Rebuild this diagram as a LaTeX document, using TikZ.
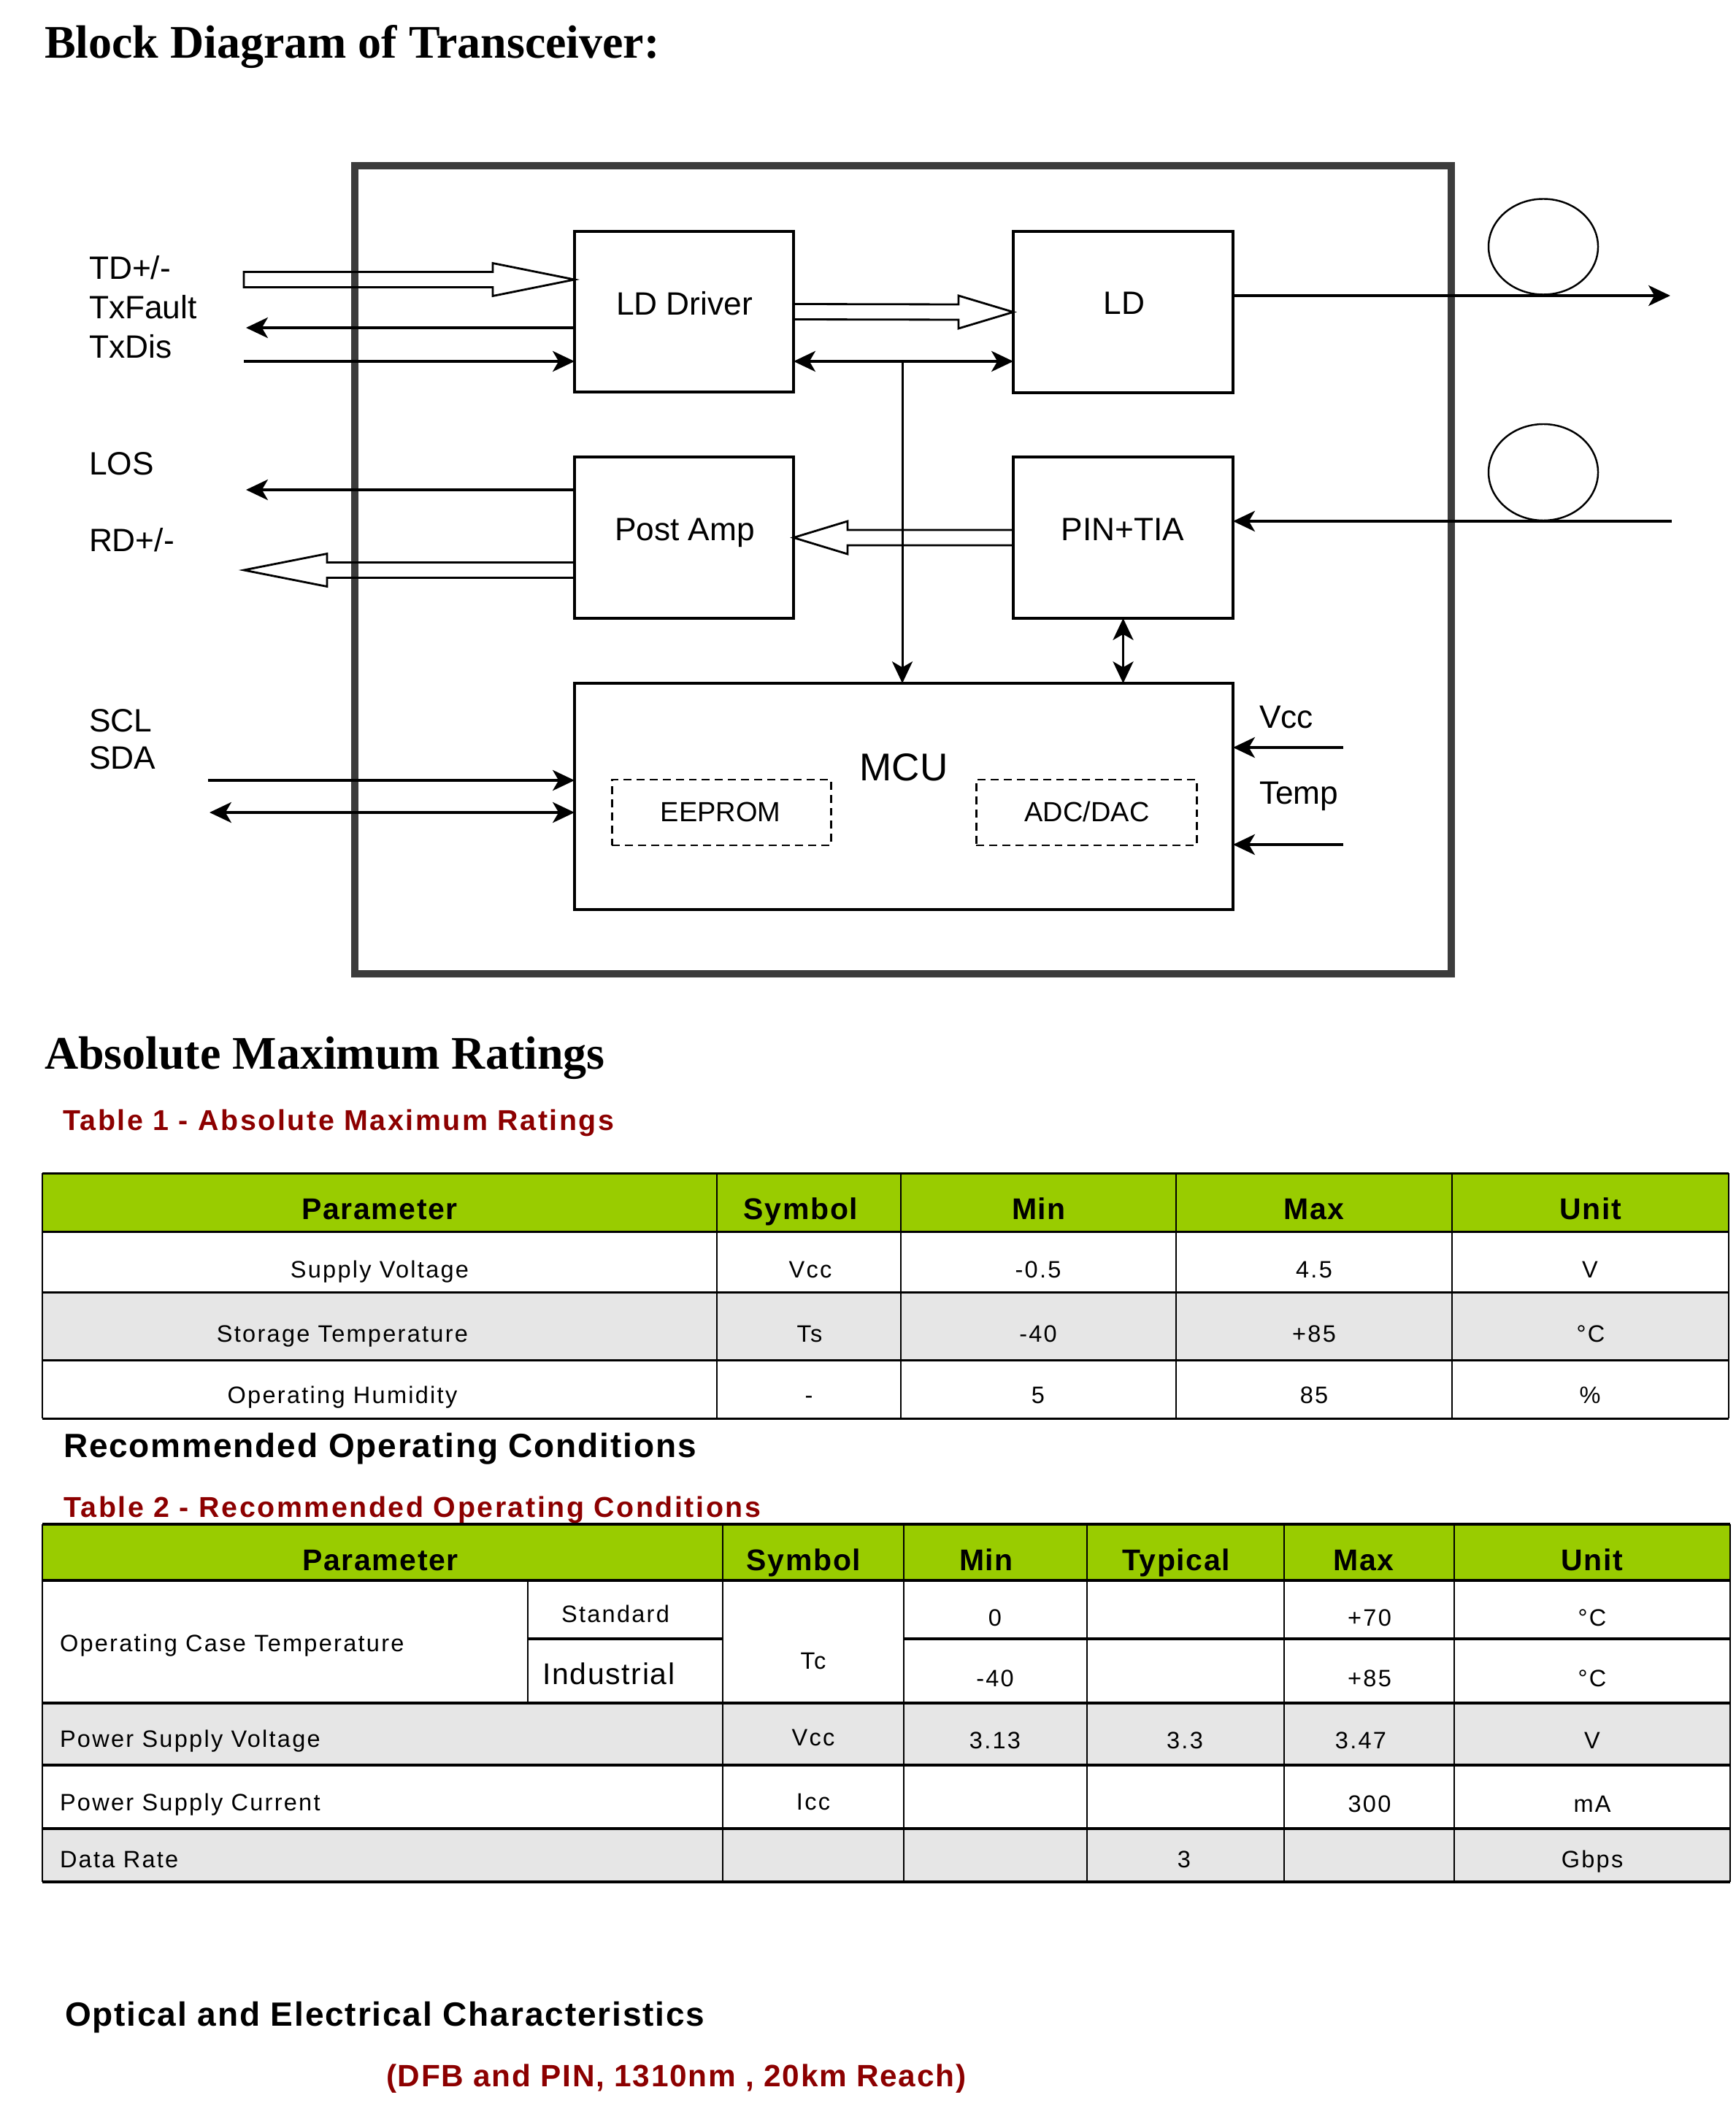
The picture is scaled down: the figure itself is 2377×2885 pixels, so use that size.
\documentclass[tikz,border=0pt]{standalone}
\usepackage{fontspec}
\setmainfont{Liberation Serif}
\newfontfamily\sfA{Liberation Sans}
\newfontfamily\sfB[LetterSpace=7]{Liberation Sans}
\newfontfamily\sfC[LetterSpace=4]{Liberation Sans}
\newfontfamily\sfD[LetterSpace=6.5]{Liberation Sans}
\usetikzlibrary{arrows.meta,calc}
\definecolor{hdrgreen}{RGB}{153,204,0}
\definecolor{rowgray}{RGB}{230,230,230}
\definecolor{capred}{RGB}{140,0,0}
\definecolor{framegray}{RGB}{60,60,60}
\newcommand\hollowR[3]{\draw[hol] ($(#1)+(0,-10.5)$) -- ($(#2)+(-#3,-10.5)$) -- ($(#2)+(-#3,-22.5)$) -- (#2) -- ($(#2)+(-#3,22.5)$) -- ($(#2)+(-#3,10.5)$) -- ($(#1)+(0,10.5)$) -- cycle;}
\newcommand\hollowL[3]{\draw[hol] ($(#1)+(0,-10.5)$) -- ($(#2)+(#3,-10.5)$) -- ($(#2)+(#3,-22.5)$) -- (#2) -- ($(#2)+(#3,22.5)$) -- ($(#2)+(#3,10.5)$) -- ($(#1)+(0,10.5)$) -- cycle;}
\begin{document}
\begin{tikzpicture}[x=0.1mm,y=-0.1mm,
  every node/.style={inner sep=0pt,outer sep=0pt},
  >={Stealth[length=8.5pt,width=8pt,inset=2.3pt]},
  blk/.style={draw,line width=1pt},
  dbox/.style={draw,line width=0.85pt,dash pattern=on 3.1pt off 2pt},
  arr/.style={line width=1.2pt},
  varr/.style={line width=0.85pt},
  hol/.style={line width=0.8pt,line join=miter},
  lbl/.style={font=\sfA\fontsize{12.6pt}{15pt}\selectfont},
  subl/.style={anchor=base,font=\sfA\fontsize{10.8pt}{13pt}\selectfont},
  sect/.style={anchor=base west,font=\bfseries\fontsize{18.2pt}{21pt}\selectfont},
  headl/.style={anchor=base west,font=\sfC\bfseries\fontsize{13.1pt}{16pt}\selectfont},
  tcap/.style={anchor=base west,text=capred,font=\sfD\bfseries\fontsize{11.2pt}{13pt}\selectfont},
  th/.style={anchor=base,font=\sfC\bfseries\fontsize{11.66pt}{14pt}\selectfont},
  tb/.style={anchor=base,font=\sfB\fontsize{9.25pt}{11pt}\selectfont},
  tbl/.style={anchor=base west,font=\sfB\fontsize{9.25pt}{11pt}\selectfont},
  hl1/.style={line width=0.85pt},
  vl1/.style={line width=0.5pt},
  hl2/.style={line width=1.25pt},
  vl2/.style={line width=0.7pt}]
\useasboundingbox (0,0) rectangle (2377,2885);

% ---------------- Title ----------------
\node[sect] (title) at (61,80) {Block Diagram of Transceiver:};

% ---------------- Frame ----------------
\draw[line width=2.6pt,draw=framegray] (486,227) rectangle (1988,1334);

% ---------------- Blocks ----------------
\node[blk,minimum width=30mm,minimum height=22mm] (ldd) at (937,427) {};
\node[blk,minimum width=30.1mm,minimum height=22.1mm] (ld) at (1538.5,427.5) {};
\node[blk,minimum width=30mm,minimum height=22.1mm] (pa) at (937,736.5) {};
\node[blk,minimum width=30.1mm,minimum height=22.1mm] (pin) at (1538.5,736.5) {};
\node[blk,minimum width=90.2mm,minimum height=31mm] (mcu) at (1238,1091) {};
\node[dbox,minimum width=30mm,minimum height=9mm] (eep) at (988,1113) {};
\node[dbox,minimum width=30.2mm,minimum height=9mm] (adc) at (1488,1113) {};

\node[lbl,anchor=base] (lddT) at (937.5,432) {LD Driver};
\node[lbl,anchor=base] (ldT) at (1540,431) {LD};
\node[lbl,anchor=base] (paT) at (938,740) {Post Amp};
\node[lbl,anchor=base] (pinT) at (1538,740) {PIN+TIA};
\node[anchor=base,font=\sfA\fontsize{15.1pt}{18pt}\selectfont] (mcuT) at (1238,1069) {MCU};
\node[subl] (eepT) at (987,1125) {EEPROM};
\node[subl] (adcT) at (1489,1125) {ADC/DAC};

% ---------------- Side labels ----------------
\node[lbl,anchor=base west] (tdT) at (122,383) {TD+/-};
\node[lbl,anchor=base west] (txfT) at (122,437) {TxFault};
\node[lbl,anchor=base west] (txdT) at (122,491) {TxDis};
\node[lbl,anchor=base west] (losT) at (122,651) {LOS};
\node[lbl,anchor=base west] (rdT) at (122,756) {RD+/-};
\node[lbl,anchor=base west] (sclT) at (122,1002) {SCL};
\node[lbl,anchor=base west] (sdaT) at (122,1053) {SDA};
\node[lbl,anchor=base west] (vccT) at (1725,997) {Vcc};
\node[lbl,anchor=base west] (tmpT) at (1725,1101) {Temp};

% ---------------- Coordinates ----------------
\coordinate (tdS) at (334,383);
\coordinate (tdE) at (ldd.west |- tdS);
\coordinate (txfE) at (337,449);
\coordinate (txdS) at (334,495);
\coordinate (losE) at (337,671);
\coordinate (rdE) at (334,781);
\coordinate (rdS) at (pa.west |- rdE);
\coordinate (sclS) at (285,1069);
\coordinate (sdaS) at (287,1113);
\coordinate (vccS) at (1840,1024);
\coordinate (tmpS) at (1840,1157);
\coordinate (outE) at (2288,405);
\coordinate (inS) at (2290,714);
\coordinate (bus) at (1236,495);

% ---------------- Hollow (bus) arrows ----------------
\hollowR{tdS}{tdE}{112}
\hollowR{ldd.east}{ld.west}{75}
\hollowL{pin.west}{pa.east}{74}
\hollowL{rdS}{rdE}{114}

% ---------------- Line arrows ----------------
\draw[arr,->] (ldd.west |- txfE) -- (txfE);
\draw[arr,->] (txdS) -- (ldd.west |- txdS);
\draw[arr,<->] (ldd.east |- bus) -- (ld.west |- bus);
\draw[varr,->] (bus) -- (bus |- mcu.north);
\draw[varr,<->] (pin.south) -- (pin.south |- mcu.north);
\draw[arr,->] (pa.west |- losE) -- (losE);
\draw[arr,->] (sclS) -- (mcu.west |- sclS);
\draw[arr,<->] (sdaS) -- (mcu.west |- sdaS);
\draw[arr,->] (vccS) -- (mcu.east |- vccS);
\draw[arr,->] (tmpS) -- (mcu.east |- tmpS);
\draw[arr,->] (ld.east |- outE) -- (outE);
\draw[arr,->] (inS) -- (pin.east |- inS);

% fibre loops
\draw[line width=0.7pt] (2114,338) ellipse [x radius=7.5mm,y radius=6.55mm];
\draw[line width=0.7pt] (2114,647) ellipse [x radius=7.5mm,y radius=6.6mm];

% ---------------- Absolute Maximum Ratings ----------------
\node[sect] (amr) at (61,1464) {Absolute Maximum Ratings};
\node[tcap] (cap1) at (86,1548) {Table 1 - Absolute Maximum Ratings};

\fill[hdrgreen] (58,1607) rectangle (2368,1687);
\fill[rowgray] (58,1770) rectangle (2368,1863);
\foreach \yy in {1607,1687,1770,1863,1943} \draw[hl1] (58,\yy) -- (2368,\yy);
\foreach \xx in {58,982,1234,1611,1989,2368} \draw[vl1] (\xx,1607) -- (\xx,1943);

\node[th] (a00) at (520,1670) {Parameter};
\node[th] (a01) at (1097,1670) {Symbol};
\node[th] (a02) at (1423,1670) {Min};
\node[th] (a03) at (1800,1670) {Max};
\node[th] (a04) at (2179,1670) {Unit};

\node[tb] (a10) at (520,1750) {Supply Voltage};
\node[tb] (a11) at (1110,1750) {Vcc};
\node[tb] (a12) at (1422,1750) {-0.5};
\node[tb] (a13) at (1800,1750) {4.5};
\node[tb] (a14) at (2178,1750) {V};

\node[tb] (a20) at (469,1838) {Storage Temperature};
\node[tb] (a21) at (1109,1838) {Ts};
\node[tb] (a22) at (1422,1838) {-40};
\node[tb] (a23) at (1800,1838) {+85};
\node[tb] (a24) at (2179,1838) {°C};

\node[tb] (a30) at (469,1922) {Operating Humidity};
\node[tb] (a31) at (1108,1922) {-};
\node[tb] (a32) at (1422,1922) {5};
\node[tb] (a33) at (1800,1922) {85};
\node[tb] (a34) at (2178,1922) {\%};

% ---------------- Recommended Operating Conditions ----------------
\node[headl] (roc) at (87,1996) {Recommended Operating Conditions};
\node[tcap] (cap2) at (87,2078) {Table 2 - Recommended Operating Conditions};

\fill[hdrgreen] (58,2088) rectangle (2370,2165);
\fill[rowgray] (58,2333) rectangle (2370,2418);
\fill[rowgray] (58,2505) rectangle (2370,2578);
\foreach \yy in {2088,2165,2333,2418,2505,2578} \draw[hl2] (58,\yy) -- (2370,\yy);
\draw[hl2] (723,2245) -- (990,2245);
\draw[hl2] (1238,2245) -- (2370,2245);
\foreach \xx in {58,990,1238,1489,1759,1992,2370} \draw[vl2] (\xx,2088) -- (\xx,2578);
\draw[vl2] (723,2165) -- (723,2333);

\node[th] (b00) at (521,2151) {Parameter};
\node[th] (b01) at (1101,2151) {Symbol};
\node[th] (b02) at (1351,2151) {Min};
\node[th] (b03) at (1611,2151) {Typical};
\node[th] (b04) at (1868,2151) {Max};
\node[th] (b05) at (2181,2151) {Unit};

\node[tbl] (b10) at (82,2262) {Operating Case Temperature};
\node[tb] (b11) at (843,2222) {Standard};
\node[anchor=base,font=\sfC\fontsize{11.66pt}{14pt}\selectfont] (b12) at (834,2307) {Industrial};
\node[tb] (b13) at (1114,2286) {Tc};
\node[tb] (b14) at (1363,2227) {0};
\node[tb] (b15) at (1876,2227) {+70};
\node[tb] (b16) at (2181,2227) {°C};
\node[tb] (b17) at (1363,2310) {-40};
\node[tb] (b18) at (1876,2310) {+85};
\node[tb] (b19) at (2181,2310) {°C};

\node[tbl] (b20) at (82,2393) {Power Supply Voltage};
\node[tb] (b21) at (1114,2391) {Vcc};
\node[tb] (b22) at (1363,2395) {3.13};
\node[tb] (b23) at (1623,2395) {3.3};
\node[tb] (b24) at (1864,2395) {3.47};
\node[tb] (b25) at (2181,2395) {V};

\node[tbl] (b30) at (82,2480) {Power Supply Current};
\node[tb] (b31) at (1114,2479) {Icc};
\node[tb] (b32) at (1876,2482) {300};
\node[tb] (b33) at (2181,2482) {mA};

\node[tbl] (b40) at (82,2558) {Data Rate};
\node[tb] (b41) at (1622,2558) {3};
\node[tb] (b42) at (2181,2558) {Gbps};

% ---------------- Bottom ----------------
\node[headl] (oec) at (89,2775) {Optical and Electrical Characteristics};
\node[anchor=base west,text=capred,font=\sfC\bfseries\fontsize{12.05pt}{14pt}\selectfont] (dfb) at (529,2858) {(DFB and PIN, 1310nm , 20km Reach)};
\end{tikzpicture}
\end{document}
